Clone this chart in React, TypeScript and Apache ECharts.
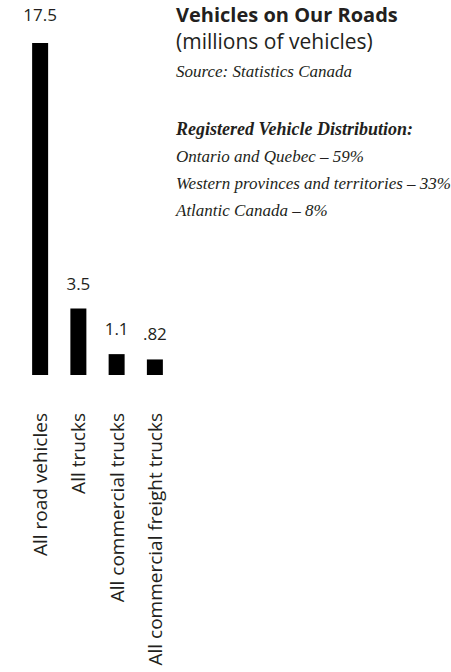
import React, { useEffect, useRef } from "react";
import * as echarts from "echarts";

// Registered vehicles in Canada, millions
const categories = [
  "All road vehicles",
  "All trucks",
  "All commercial trucks",
  "All commercial freight trucks",
];
const vehicles = [17.5, 3.5, 1.1, 0.82];
const valueLabels = ["17.5", "3.5", "1.1", ".82"];

const titleText = "Vehicles on Our Roads";
const unitText = "(millions of vehicles)";
const sourceText = "Source: Statistics Canada";
const distributionHeading = "Registered Vehicle Distribution:";
const distribution = [
  "Ontario and Quebec – 59%",
  "Western provinces and territories – 33%",
  "Atlantic Canada – 8%",
];

const INK = "#231f20";
const SANS = "'Open Sans', 'Noto Sans', sans-serif";
const SERIF = "'Liberation Serif', 'DejaVu Serif', serif";

export default function App() {
  const ref = useRef<HTMLDivElement>(null);

  useEffect(() => {
    if (!ref.current) return;
    const chart = echarts.init(ref.current, undefined, { renderer: "svg" });

    const textX = 176;
    const graphic: any[] = [
      {
        type: "text",
        x: textX,
        y: 14,
        style: { text: titleText, font: `bold 20px ${SANS}`, fill: INK, verticalAlign: "middle" },
      },
      {
        type: "text",
        x: textX,
        y: 41,
        style: { text: unitText, font: `21px ${SANS}`, fill: INK, verticalAlign: "middle" },
      },
      {
        type: "text",
        x: textX,
        y: 71,
        style: { text: sourceText, font: `italic 17px ${SERIF}`, fill: INK, verticalAlign: "middle" },
      },
      {
        type: "text",
        x: textX,
        y: 129,
        style: {
          text: distributionHeading,
          font: `italic bold 18px ${SERIF}`,
          fill: INK,
          verticalAlign: "middle",
        },
      },
      ...distribution.map((line, i) => ({
        type: "text",
        x: textX,
        y: 156 + i * 27,
        style: { text: line, font: `italic 17px ${SERIF}`, fill: INK, verticalAlign: "middle" },
      })),
    ];

    chart.setOption({
      animation: false,
      grid: { left: 21, top: 43, width: 153, height: 332, containLabel: false },
      xAxis: {
        type: "category",
        data: categories,
        axisLine: { show: false },
        axisTick: { show: false },
        axisLabel: {
          interval: 0,
          rotate: 90,
          margin: 38,
          fontSize: 19,
          fontFamily: SANS,
          color: INK,
        },
      },
      yAxis: { type: "value", min: 0, max: 17.5, show: false },
      series: [
        {
          type: "bar",
          barWidth: 16,
          itemStyle: { color: "#000" },
          data: vehicles.map((v, i) => ({
            value: v,
            label: i === 0 ? { distance: 20 } : undefined,
          })),
          label: {
            show: true,
            position: "top",
            distance: 17,
            fontSize: 17,
            fontFamily: SANS,
            color: INK,
            formatter: (p: any) => valueLabels[p.dataIndex],
          },
        },
      ],
      graphic,
    });

    return () => chart.dispose();
  }, []);

  return (
    <div
      ref={ref}
      style={{ position: "fixed", left: 0, top: 0, width: 451, height: 672, background: "#fff" }}
    />
  );
}
